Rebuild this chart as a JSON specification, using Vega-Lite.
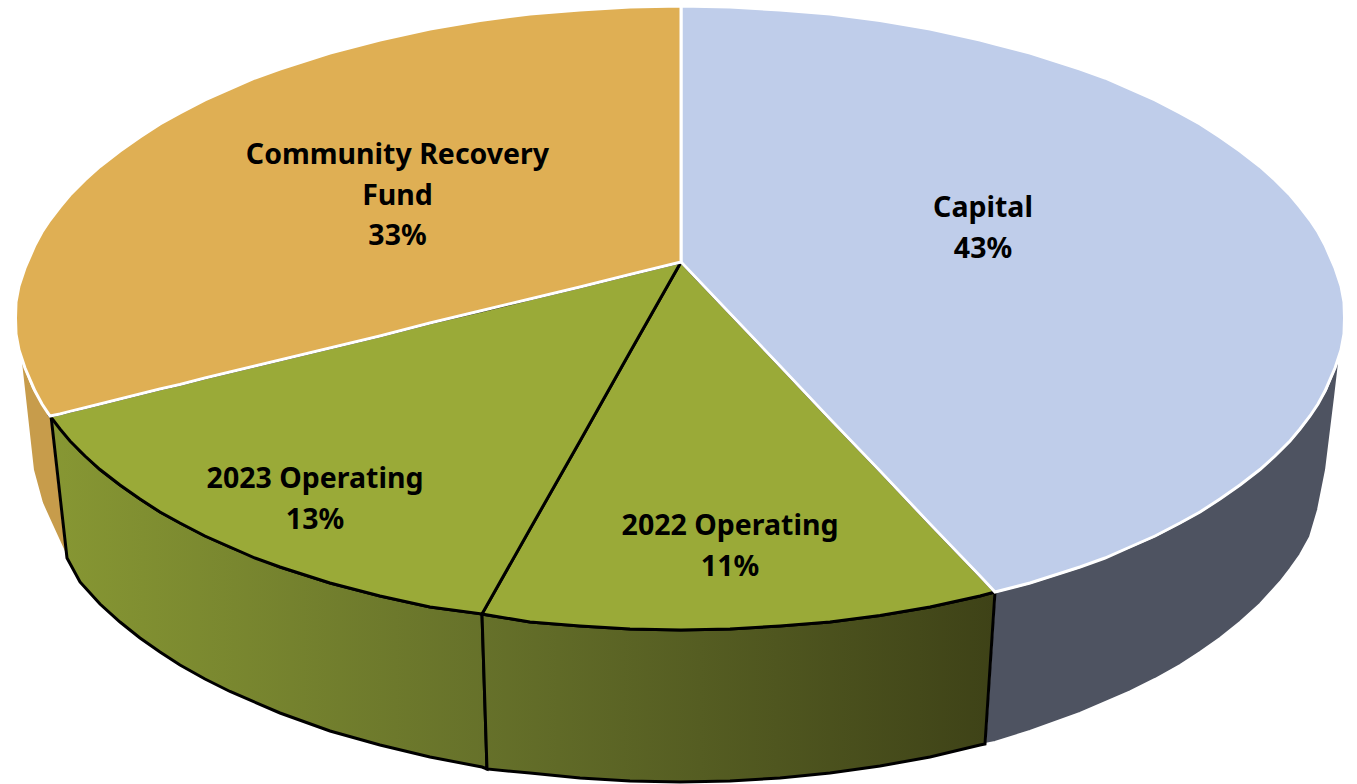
{"$schema":"https://vega.github.io/schema/vega-lite/v6.json","width":1357,"height":784,"padding":0,"autosize":"none","background":"white","config":{"view":{"stroke":null}},"datasets":{"top":[
{"slice":"2022 Operating","x":482,"y":614,"y2":614},{"slice":"2022 Operating","x":530,"y":529,"y2":622},{"slice":"2022 Operating","x":580,"y":441,"y2":626},{"slice":"2022 Operating","x":630,"y":352,"y2":629},{"slice":"2022 Operating","x":681,"y":262,"y2":630},{"slice":"2022 Operating","x":730,"y":313.5,"y2":629},{"slice":"2022 Operating","x":780,"y":366,"y2":626},{"slice":"2022 Operating","x":830,"y":419,"y2":622},{"slice":"2022 Operating","x":880,"y":471,"y2":615.5},{"slice":"2022 Operating","x":930,"y":524,"y2":607},{"slice":"2022 Operating","x":980,"y":576,"y2":596},{"slice":"2022 Operating","x":995,"y":592,"y2":592},
{"slice":"2023 Operating","x":50,"y":416,"y2":416},{"slice":"2023 Operating","x":60,"y":414,"y2":429},{"slice":"2023 Operating","x":70,"y":411.4,"y2":441},{"slice":"2023 Operating","x":85,"y":407.7,"y2":456},{"slice":"2023 Operating","x":100,"y":404,"y2":469.5},{"slice":"2023 Operating","x":120,"y":399,"y2":485},{"slice":"2023 Operating","x":140,"y":394,"y2":499},{"slice":"2023 Operating","x":160,"y":389,"y2":512},{"slice":"2023 Operating","x":180,"y":384.5,"y2":523},{"slice":"2023 Operating","x":205,"y":378,"y2":536},{"slice":"2023 Operating","x":230,"y":372,"y2":547},{"slice":"2023 Operating","x":255,"y":366,"y2":558},{"slice":"2023 Operating","x":280,"y":360,"y2":567},{"slice":"2023 Operating","x":330,"y":348,"y2":583},{"slice":"2023 Operating","x":380,"y":336,"y2":596},{"slice":"2023 Operating","x":430,"y":323,"y2":607},{"slice":"2023 Operating","x":482,"y":310.7,"y2":614},{"slice":"2023 Operating","x":530,"y":299,"y2":529},{"slice":"2023 Operating","x":580,"y":287,"y2":441},{"slice":"2023 Operating","x":630,"y":274.5,"y2":352},{"slice":"2023 Operating","x":681,"y":262,"y2":262},
{"slice":"Capital","x":681,"y":6,"y2":262},{"slice":"Capital","x":730,"y":7,"y2":313.5},{"slice":"Capital","x":780,"y":10,"y2":366},{"slice":"Capital","x":830,"y":14,"y2":419},{"slice":"Capital","x":880,"y":20.5,"y2":471},{"slice":"Capital","x":930,"y":29,"y2":524},{"slice":"Capital","x":980,"y":40,"y2":576},{"slice":"Capital","x":995,"y":44,"y2":592},{"slice":"Capital","x":1030,"y":53,"y2":583},{"slice":"Capital","x":1080,"y":69,"y2":567},{"slice":"Capital","x":1105,"y":78,"y2":558},{"slice":"Capital","x":1130,"y":89,"y2":547},{"slice":"Capital","x":1155,"y":100,"y2":536},{"slice":"Capital","x":1180,"y":113,"y2":523},{"slice":"Capital","x":1200,"y":124,"y2":512},{"slice":"Capital","x":1220,"y":137,"y2":499},{"slice":"Capital","x":1240,"y":151,"y2":485},{"slice":"Capital","x":1260,"y":166.5,"y2":469.5},{"slice":"Capital","x":1275,"y":180,"y2":456},{"slice":"Capital","x":1290,"y":195,"y2":441},{"slice":"Capital","x":1300,"y":207,"y2":429},{"slice":"Capital","x":1310,"y":220,"y2":416},{"slice":"Capital","x":1318,"y":232,"y2":404},{"slice":"Capital","x":1325,"y":245,"y2":391},{"slice":"Capital","x":1335,"y":268,"y2":368},{"slice":"Capital","x":1341,"y":286,"y2":350},{"slice":"Capital","x":1344,"y":302,"y2":334},{"slice":"Capital","x":1344.5,"y":318,"y2":318},
{"slice":"Community Recovery Fund","x":15.5,"y":318,"y2":318},{"slice":"Community Recovery Fund","x":16,"y":302,"y2":334},{"slice":"Community Recovery Fund","x":19,"y":286,"y2":350},{"slice":"Community Recovery Fund","x":25,"y":268,"y2":368},{"slice":"Community Recovery Fund","x":35,"y":245,"y2":391},{"slice":"Community Recovery Fund","x":42,"y":232,"y2":404},{"slice":"Community Recovery Fund","x":50,"y":220,"y2":416},{"slice":"Community Recovery Fund","x":60,"y":207,"y2":414},{"slice":"Community Recovery Fund","x":70,"y":195,"y2":411.4},{"slice":"Community Recovery Fund","x":85,"y":180,"y2":407.7},{"slice":"Community Recovery Fund","x":100,"y":166.5,"y2":404},{"slice":"Community Recovery Fund","x":120,"y":151,"y2":399},{"slice":"Community Recovery Fund","x":140,"y":137,"y2":394},{"slice":"Community Recovery Fund","x":160,"y":124,"y2":389},{"slice":"Community Recovery Fund","x":180,"y":113,"y2":384.5},{"slice":"Community Recovery Fund","x":205,"y":100,"y2":378},{"slice":"Community Recovery Fund","x":230,"y":89,"y2":372},{"slice":"Community Recovery Fund","x":255,"y":78,"y2":366},{"slice":"Community Recovery Fund","x":280,"y":69,"y2":360},{"slice":"Community Recovery Fund","x":330,"y":53,"y2":348},{"slice":"Community Recovery Fund","x":380,"y":40,"y2":336},{"slice":"Community Recovery Fund","x":430,"y":29,"y2":323},{"slice":"Community Recovery Fund","x":480,"y":20.5,"y2":311},{"slice":"Community Recovery Fund","x":530,"y":14,"y2":299},{"slice":"Community Recovery Fund","x":580,"y":10,"y2":287},{"slice":"Community Recovery Fund","x":630,"y":7,"y2":274.5},{"slice":"Community Recovery Fund","x":681,"y":6,"y2":262}
],"wall":[
{"slice":"Capital","x":985,"y":744,"y2":744},{"slice":"Capital","x":995,"y":592,"y2":742},{"slice":"Capital","x":1030,"y":583,"y2":731},{"slice":"Capital","x":1080,"y":567,"y2":713},{"slice":"Capital","x":1130,"y":547,"y2":691.5},{"slice":"Capital","x":1155,"y":536,"y2":679},{"slice":"Capital","x":1180,"y":523,"y2":665},{"slice":"Capital","x":1200,"y":512,"y2":652},{"slice":"Capital","x":1220,"y":499,"y2":638},{"slice":"Capital","x":1240,"y":485,"y2":622},{"slice":"Capital","x":1260,"y":469.5,"y2":604},{"slice":"Capital","x":1280,"y":451,"y2":582},{"slice":"Capital","x":1290,"y":441,"y2":569},{"slice":"Capital","x":1300,"y":429,"y2":555},{"slice":"Capital","x":1310,"y":416,"y2":537},{"slice":"Capital","x":1318,"y":403,"y2":510},{"slice":"Capital","x":1326,"y":390,"y2":470},{"slice":"Capital","x":1335,"y":368,"y2":397},{"slice":"Capital","x":1340,"y":354,"y2":354},
{"slice":"Community Recovery Fund","x":20,"y":353,"y2":353},{"slice":"Community Recovery Fund","x":25,"y":368,"y2":398},{"slice":"Community Recovery Fund","x":33,"y":388,"y2":470},{"slice":"Community Recovery Fund","x":42,"y":403,"y2":503},{"slice":"Community Recovery Fund","x":51,"y":416,"y2":523},{"slice":"Community Recovery Fund","x":67,"y":558,"y2":558},
{"slice":"2023 Operating","x":51,"y":416,"y2":416},{"slice":"2023 Operating","x":67,"y":436,"y2":558},{"slice":"2023 Operating","x":80,"y":451,"y2":582},{"slice":"2023 Operating","x":100,"y":469.5,"y2":604},{"slice":"2023 Operating","x":120,"y":485,"y2":622},{"slice":"2023 Operating","x":140,"y":499,"y2":638},{"slice":"2023 Operating","x":160,"y":512,"y2":652},{"slice":"2023 Operating","x":180,"y":523,"y2":665},{"slice":"2023 Operating","x":205,"y":536,"y2":679},{"slice":"2023 Operating","x":230,"y":547,"y2":691.5},{"slice":"2023 Operating","x":280,"y":567,"y2":713},{"slice":"2023 Operating","x":330,"y":583,"y2":731},{"slice":"2023 Operating","x":380,"y":596,"y2":745},{"slice":"2023 Operating","x":430,"y":607,"y2":757},{"slice":"2023 Operating","x":482,"y":614,"y2":767},{"slice":"2023 Operating","x":487,"y":769,"y2":769},
{"slice":"2022 Operating","x":482,"y":614,"y2":614},{"slice":"2022 Operating","x":487,"y":615,"y2":769},{"slice":"2022 Operating","x":530,"y":622,"y2":773},{"slice":"2022 Operating","x":580,"y":626,"y2":778},{"slice":"2022 Operating","x":630,"y":629,"y2":781},{"slice":"2022 Operating","x":680,"y":630,"y2":782},{"slice":"2022 Operating","x":730,"y":629,"y2":781},{"slice":"2022 Operating","x":780,"y":626,"y2":778},{"slice":"2022 Operating","x":830,"y":622,"y2":773},{"slice":"2022 Operating","x":880,"y":615.5,"y2":766},{"slice":"2022 Operating","x":930,"y":607,"y2":757},{"slice":"2022 Operating","x":980,"y":596,"y2":745},{"slice":"2022 Operating","x":985,"y":594.5,"y2":744},{"slice":"2022 Operating","x":995,"y":592,"y2":592}
],"labels":[
{"slice":"Capital","share":43,"label":"Capital\n43%","x":983,"y":217},{"slice":"Community Recovery Fund","share":33,"label":"Community Recovery\nFund\n33%","x":397.5,"y":164},{"slice":"2022 Operating","share":11,"label":"2022 Operating\n11%","x":730,"y":535},{"slice":"2023 Operating","share":13,"label":"2023 Operating\n13%","x":315,"y":488}
]},
"encoding":{
"x":{"field":"x","type":"quantitative","scale":{"domain":[0,1357]},"axis":null},
"y":{"field":"y","type":"quantitative","scale":{"domain":[784,0]},"axis":null},
"y2":{"field":"y2"}},
"layer":[
{"data":{"name":"wall"},"transform":[{"filter":"datum.slice==='Community Recovery Fund'"}],"mark":{"type":"area","color":"#C79C4B","stroke":"white","strokeWidth":2}},
{"data":{"name":"wall"},"transform":[{"filter":"datum.slice==='Capital'"}],"mark":{"type":"area","color":"#4E5361","stroke":"white","strokeWidth":2}},
{"data":{"name":"wall"},"transform":[{"filter":"datum.slice==='2023 Operating'"}],"mark":{"type":"area","color":{"gradient":"linear","x1":0,"x2":1,"y1":0,"y2":0,"stops":[{"offset":0,"color":"#879733"},{"offset":1,"color":"#66712A"}]},"stroke":"black","strokeWidth":3}},
{"data":{"name":"wall"},"transform":[{"filter":"datum.slice==='2022 Operating'"}],"mark":{"type":"area","color":{"gradient":"linear","x1":0,"x2":1,"y1":0,"y2":0,"stops":[{"offset":0,"color":"#66712A"},{"offset":1,"color":"#3E4217"}]},"stroke":"black","strokeWidth":3}},
{"data":{"name":"top"},"mark":{"type":"area","strokeWidth":3},"encoding":{
"color":{"field":"slice","type":"nominal","legend":null,"scale":{"domain":["2022 Operating","2023 Operating","Capital","Community Recovery Fund"],"range":["#9AAA38","#9AAA38","#BFCDEA","#DFAF54"]}},
"stroke":{"field":"slice","type":"nominal","legend":null,"scale":{"domain":["2022 Operating","2023 Operating","Capital","Community Recovery Fund"],"range":["black","black","white","white"]}}}},
{"data":{"name":"labels"},"mark":{"type":"text","align":"center","baseline":"alphabetic","lineBreak":"\n","lineHeight":40.5,"font":"Noto Sans","fontWeight":"bold","fontSize":28.5,"color":"black"},"encoding":{"text":{"field":"label","type":"nominal"},"y2":null}}
]}
